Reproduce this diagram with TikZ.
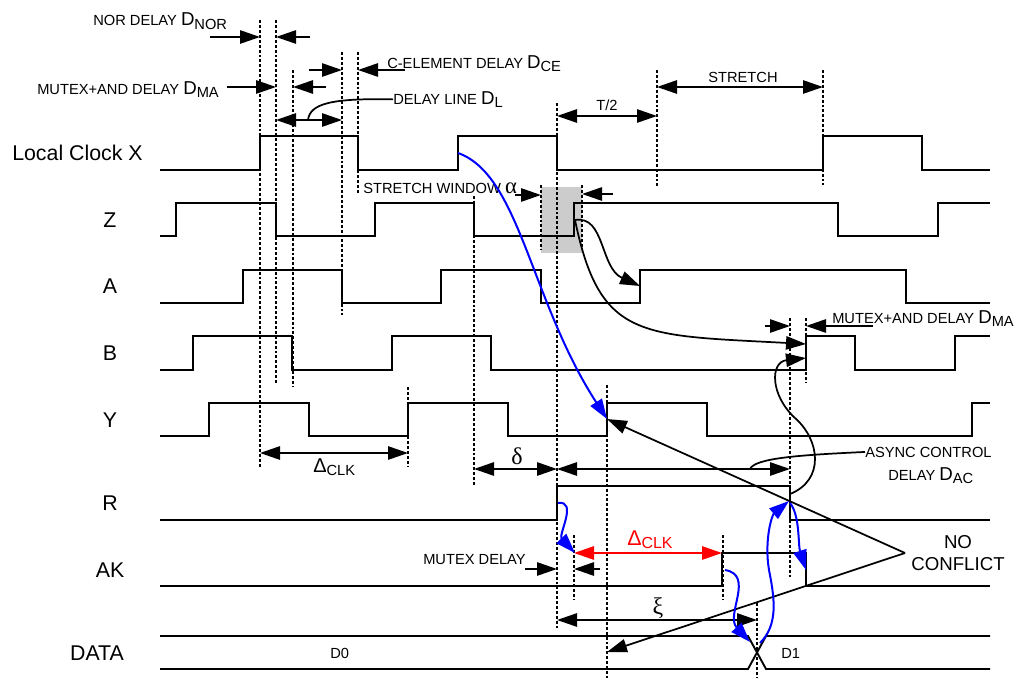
\documentclass[tikz,border=0pt]{standalone}
\usepackage{fontspec}
\setmainfont{Liberation Sans}
\newfontfamily\greekfont{Liberation Serif}
\usetikzlibrary{arrows.meta}

\newcommand{\dsub}[2]{{\fontsize{14}{14}\selectfont #1}\raisebox{-2.7pt}{#2}}

\tikzset{
  >={Triangle[length=15pt,width=10pt]},
  sig/.style={line width=1.4pt},
  vline/.style={line width=1.7pt, dash pattern=on 2.2pt off 1.5pt},
  dim/.style={line width=1.3pt},
  bcurve/.style={blue, line width=1.5pt},
  siglbl/.style={font=\fontsize{16}{18}\selectfont, inner sep=0pt, anchor=base},
  note/.style={font=\fontsize{11}{13}\selectfont, inner sep=0pt, anchor=base west},
  greek/.style={font=\greekfont\fontsize{18}{18}\selectfont, inner sep=0pt, anchor=base},
}

\begin{document}
\begin{tikzpicture}[x=0.75pt, y=-0.75pt]
    \useasboundingbox (0,0) rectangle (1017,678);
    \fill[gray!40] (541,187) rectangle (582,253);

    \foreach \x/\a/\b in {260/20/468, 276/20/383, 293/70/387, 342/52/315, 358/52/195, 408/387/467, 474/196/487, 541/185/250, 557/103/628, 582/185/250, 607/385/678, 574/535/600, 657/70/186, 823/70/185, 790/318/578, 806/318/383, 723/535/600, 757/603/678}
        \draw[vline] (\x,\a) -- (\x,\b);

    \draw[sig] (160,170) -| (260,136) -| (358,170) -| (458,136) -| (557,170) -| (823,136) -| (922,170) -- (990,170);
    \draw[sig] (160,236) -| (176,203) -| (276,236) -| (375,203) -| (474,236) -| (574,203) -| (838,236) -| (938,203) -- (990,203);
    \draw[sig] (160,303) -| (243,270) -| (342,303) -| (441,270) -| (541,303) -| (640,270) -| (906,303) -- (990,303);
    \draw[sig] (160,370) -| (193,336) -| (292,370) -| (392,336) -| (491,370) -| (806,336) -| (855,370) -| (955,336) -- (990,336);
    \draw[sig] (160,436) -| (209,403) -| (309,436) -| (408,403) -| (508,436) -| (607,403) -| (707,436) -| (972,403) -- (990,403);
    \draw[sig] (160,520) -| (557,486) -| (790,520) -- (990,520);
    \draw[sig] (160,586) -| (722,553) -| (806,586) -- (990,586);
    \draw[sig] (160,636) -- (748,636) -- (766,669) -- (990,669);
    \draw[sig] (160,669) -- (748,669) -- (766,636) -- (990,636);

    \node (lclk) at (12,160) [siglbl, anchor=base west] {Local Clock X};
    \foreach \s/\y in {Z/227, A/293, B/360, Y/427, R/510, AK/577}
        \node (lab\s) at (110,\y) [siglbl] {\s};
    \node (labDATA) at (97,660) [siglbl] {DATA};

    \node (nor) at (93,26) [note] {NOR DELAY \dsub{D}{NOR}};
    \node (ma) at (37,94) [note] {MUTEX+AND DELAY \dsub{D}{MA}};
    \node (ce) at (387,68) [note] {C-ELEMENT DELAY \dsub{D}{CE}};
    \node (dl) at (393,104) [note] {DELAY LINE \dsub{D}{L}};
    \node (half) at (607,110) [note, anchor=base] {T/2};
    \node (stretch) at (743,82) [note, anchor=base] {STRETCH};
    \node (swin) at (363,193) [note] {STRETCH WINDOW {\greekfont\fontsize{17}{17}\selectfont α}};
    \node (ma2) at (832,323) [note] {MUTEX+AND DELAY \dsub{D}{MA}};
    \node (dclk) at (313,472) [note] {\dsub{\fontsize{15}{15}\selectfont Δ}{CLK}};
    \node (dlt) at (517,464) [greek] {δ};
    \node (async1) at (865,457) [note] {ASYNC CONTROL};
    \node (async2) at (888,480) [note] {DELAY \dsub{D}{AC}};
    \node (mtx) at (423,564) [note] {MUTEX DELAY};
    \node (dclkr) at (627,545) [note, red] {\dsub{\fontsize{16}{16}\selectfont Δ}{\fontsize{12}{12}\selectfont CLK}};
    \node (no) at (958,548) [siglbl, font=\fontsize{14}{16}\selectfont] {NO};
    \node (confl) at (958,570) [siglbl, font=\fontsize{14}{16}\selectfont] {CONFLICT};
    \node (xi) at (658,614) [greek] {ξ};
    \node (d0) at (330,658) [note] {D0};
    \node (d1) at (781,658) [note] {D1};

    \draw[dim,->] (210,37) -- (260,37);
    \draw[dim,->] (310,37) -- (276,37);
    \draw[dim,->] (227,87) -- (276,87);
    \draw[dim,->] (326,87) -- (293,87);
    \draw[dim,->] (309,70) -- (342,70);
    \draw[dim,->] (405,70) -- (358,70);
    \draw[dim,<->] (276,120) -- (342,120);
    \draw[dim] (308,120) .. controls (310,104) and (330,98) .. (dl.west);
    \draw[dim,<->] (557,116) -- (657,116);
    \draw[dim,<->] (657,87) -- (823,87);
    \draw[dim,->] (515,195) -- (541,195);
    \draw[dim,->] (613,194) -- (582,194);
    \draw[dim,<->] (260,453) -- (408,453);
    \draw[dim,<->] (474,469) -- (557,469);
    \draw[dim,<->] (557,469) -- (790,469);
    \draw[dim] (async1.west) .. controls (800,455) and (755,458) .. (750,469);
    \draw[dim,->] (765,326) -- (790,326);
    \draw[dim,->] (873,326) -- (806,326);
    \draw[dim,->] (525,569) -- (557,569);
    \draw[dim,->] (600,569) -- (574,569);
    \draw[dim,<->,red] (574,553) -- (722,553);
    \draw[dim,<->] (557,620) -- (757,620);

    \coordinate (apex) at (905,553);
    \coordinate (yup) at (607,419);
    \coordinate (dlow) at (607,652);
    \draw[dim,->] (apex) -- (yup);
    \draw[dim,->] (apex) -- (dlow);

    \draw[dim,->] (575,220) .. controls (605,215) and (600,268) .. (640,286);
    \draw[dim,->] (575,220) .. controls (600,340) and (640,335) .. (806,344);
    \draw[dim,->] (790,494) .. controls (825,480) and (820,440) .. (795,418) .. controls (770,395) and (770,362) .. (806,358);

    \draw[bcurve,->] (458,153) .. controls (520,175) and (530,300) .. (yup);
    \draw[bcurve,->] (558,503) .. controls (578,500) and (558,535) .. (575,553);
    \draw[bcurve,->] (725,570) .. controls (755,575) and (725,615) .. (750,642);
    \draw[bcurve,->] (760,643) .. controls (778,625) and (775,600) .. (769,570) .. controls (764,540) and (772,515) .. (789,501);
    \draw[bcurve,->] (790,503) .. controls (800,515) and (798,545) .. (806,570);
\end{tikzpicture}
\end{document}
